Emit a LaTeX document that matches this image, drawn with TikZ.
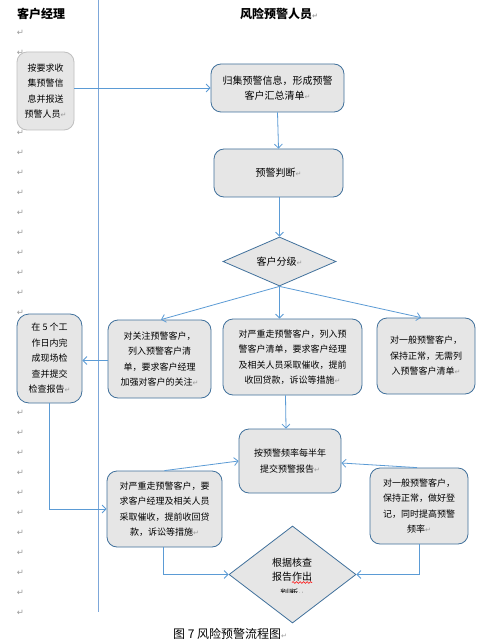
\documentclass[tikz,border=0pt]{standalone}
\usepackage{fontspec}
\setmainfont{Noto Sans CJK SC}
\newfontfamily\djv{DejaVu Sans}
\usetikzlibrary{arrows.meta,shapes.geometric,decorations.pathmorphing,calc}
\definecolor{boxfill}{HTML}{E6E6E6}
\definecolor{boxline}{HTML}{41719C}
\definecolor{conn}{HTML}{5B9BD5}
\definecolor{lanecol}{HTML}{7DA7D9}
\definecolor{markgray}{HTML}{9A9A9A}
\definecolor{greyline}{HTML}{BFBFBF}
\newcommand\rmk{{\djv\fontsize{7}{7}\selectfont\textcolor{markgray}{↵}}}
\tikzset{
  box/.style={draw=boxline, fill=boxfill, line width=0.8pt, rounded corners=10pt, inner sep=0pt, align=center, font=\fontsize{9}{15.5}\selectfont},
  dia/.style={draw=boxline, fill=boxfill, line width=0.8pt, shape=diamond, inner sep=0pt, aspect=2, font=\fontsize{10}{15}\selectfont},
  arr/.style={draw=conn, line width=0.8pt, -{Straight Barb[length=4pt,width=8pt]}},
  mk/.style={font=\djv\fontsize{8.5}{8.5}\selectfont, text=markgray, inner sep=0pt},
  ttl/.style={anchor=west, inner sep=0pt, font=\bfseries\fontsize{12}{12}\selectfont},
}
\begin{document}
\begin{tikzpicture}[x=1pt,y=-1pt]
\useasboundingbox (0,0) rectangle (495,644);
\fill[white] (0,0) rectangle (495,644);

% lane divider
\draw[draw=lanecol, line width=0.9pt] (98.5,0) -- (98.5,612);

% paragraph marks in the left column
\foreach \yy in {33,53,133,153,...,313,413,433,...,613}
  \node[mk] (pm\yy) at (20.5,\yy) {↵};

% titles
\node[ttl] (t1) at (17,14) {客户经理};
\node[ttl] (t2) at (240,14) {风险预警人员\rmk};

% boxes
\node[box, draw=greyline, minimum width=57pt, minimum height=78pt] (A) at (45.5,91) {按要求收\\集预警信\\息并报送\\预警人员\rmk};
\node[box, minimum width=133pt, minimum height=48pt, font=\fontsize{10}{15}\selectfont] (B) at (277.5,88) {归集预警信息，形成预警\\客户汇总清单\rmk};
\node[box, minimum width=129pt, minimum height=48pt, font=\fontsize{10}{15}\selectfont] (C) at (278.5,173) {预警判断\rmk};
\node[dia, minimum width=113pt, minimum height=49pt] (D) at (279.5,261.5) {客户分级\rmk};
\node[box, minimum width=103pt, minimum height=78pt] (E) at (159.5,359) {对关注预警客户，\\列入预警客户清\\单，要求客户经理\\加强对客户的关注\rmk};
\node[box, minimum width=139pt, minimum height=76pt] (F) at (292.5,357) {对严重走预警客户，列入预\\警客户清单，要求客户经理\\及相关人员采取催收，提前\\收回贷款，诉讼等措施\rmk};
\node[box, minimum width=98pt, minimum height=76pt] (G) at (426,356) {对一般预警客户，\\保持正常，无需列\\入预警客户清单\rmk};
\node[box, minimum width=65pt, minimum height=89pt, rounded corners=12pt] (K) at (49.5,358.5) {在 5 个工\\作日内完\\成现场检\\查并提交\\检查报告\rmk};
\node[box, minimum width=115pt, minimum height=76pt] (H) at (164.5,509) {对严重走预警客户，要\\求客户经理及相关人员\\采取催收，提前收回贷\\款，诉讼等措施\rmk};
\node[box, minimum width=102pt, minimum height=64pt] (I) at (290,461) {按预警频率每半年\\提交预警报告\rmk};
\node[box, minimum width=98pt, minimum height=76pt] (J) at (419,506) {对一般预警客户，\\保持正常，做好登\\记，同时提高预警\\频率\rmk};
\node[dia, minimum width=127pt, minimum height=97pt] (L) at (292.5,574.5) {};
\node[inner sep=0pt, align=center, font=\fontsize{10}{14}\selectfont] (Lt) at (292,570) {根据核查\\报告作出};
\draw[red, line width=0.6pt, decorate, decoration={snake, amplitude=0.9pt, segment length=3.5pt}] (292,582.5) -- (312,582.5);
\begin{scope}
  \clip (260,584) rectangle (330,592.5);
  \node[inner sep=0pt, font=\fontsize{9}{9}\selectfont] (Lt2) at (292,593) {判断\rmk};
\end{scope}

% connectors
\draw[arr] (A.east |- B.west) -- (B.west);
\draw[arr] (B.south) -- (C.north);
\draw[arr] (C.south -| D.north) -- (D.north);
\draw[arr] (D.south) -- ([xshift=1.5pt]E.north);
\draw[arr] (D.south) -- (D.south |- F.north);
\draw[arr] (D.south) -- ([xshift=-5pt]G.north);
\draw[arr] ([yshift=-1.5pt]E.west) -- ([yshift=-1.5pt]E.west -| K.east);
\draw[arr] (K.south) -- (K.south |- H.west) -- (H.west);
\draw[arr] ([xshift=-7pt]F.south) -- ([xshift=-4pt]I.north);
\draw[arr] (H.north) -- (I.west);
\draw[arr] ([xshift=-2pt]J.north) -- ([yshift=-2pt]I.east);
\draw[arr] ([xshift=-1.5pt]H.south) -- ([xshift=-1.5pt]H.south |- L.west) -- (L.west);
\draw[arr] (J.south) -- (J.south |- L.east) -- (L.east);

% caption
\node[anchor=west, inner sep=0pt, font=\fontsize{12}{12}\selectfont] (cap) at (173,634) {图 7 风险预警流程图\rmk};
\end{tikzpicture}
\end{document}
